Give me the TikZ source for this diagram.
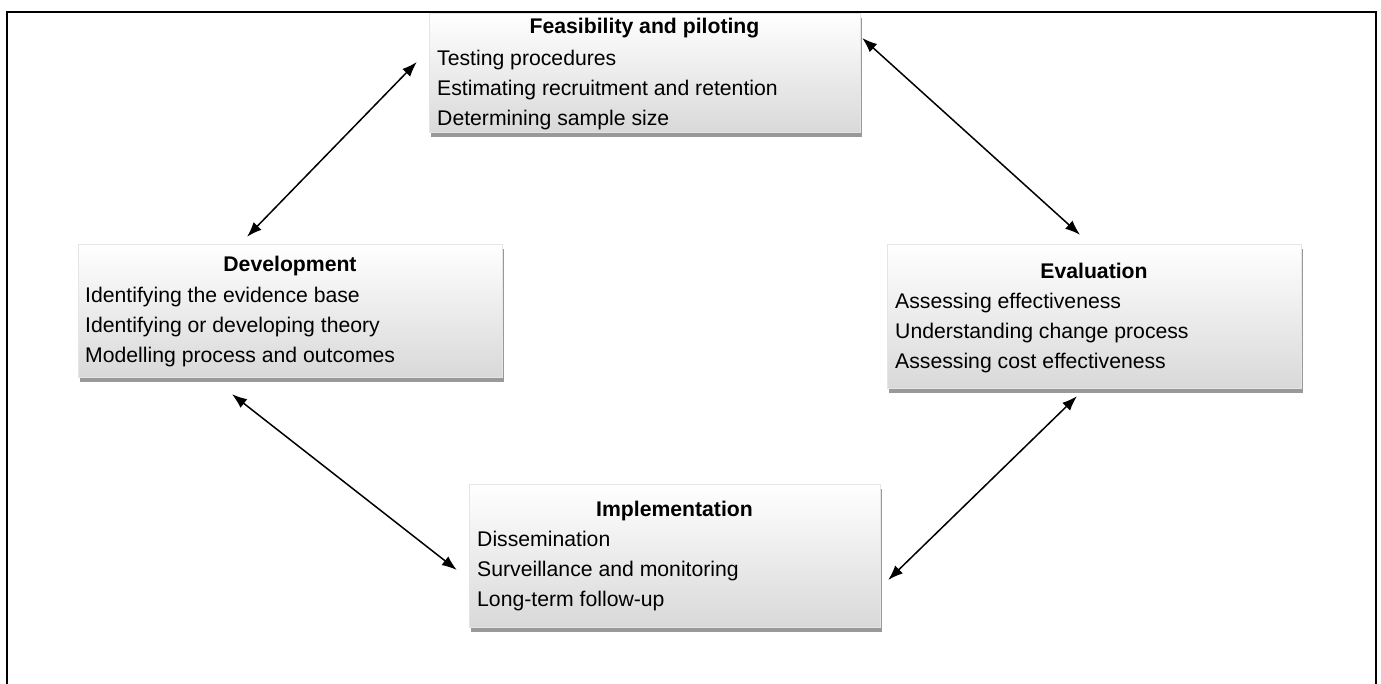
\documentclass[tikz,border=0pt]{standalone}
\usepackage{fontspec}
\setmainfont{Liberation Sans}
\usetikzlibrary{arrows.meta,shadows}
\begin{document}
\begin{tikzpicture}[x=1pt,y=-1pt,
  box/.style={rectangle, draw=black!10, line width=0.4pt, inner sep=0pt,
    top color=white, bottom color=black!15,
    drop shadow={shadow xshift=2pt, shadow yshift=-5pt, fill=black, opacity=0.4}},
  boxtitle/.style={inner sep=0pt, font=\fontsize{21.2}{30}\selectfont\bfseries},
  boxlines/.style={inner sep=0pt, anchor=west, align=left, font=\fontsize{21.2}{30}\selectfont},
  biarrow/.style={{Latex[length=15pt,width=11pt]}-{Latex[length=15pt,width=11pt]}, line width=1.5pt}]
\useasboundingbox (0,0) rectangle (1381,684);
\fill[white] (0,0) rectangle (1381,684);

% boxes
\node[box, minimum width=431pt, minimum height=119pt] (feas) at (644.5,73) {};
\node[box, minimum width=424pt, minimum height=133pt] (dev) at (290,310.5) {};
\node[box, minimum width=414pt, minimum height=144pt] (eval) at (1094,316) {};
\node[box, minimum width=411pt, minimum height=143pt] (impl) at (674.5,555.5) {};

% texts
\node[boxtitle] (feasT) at (644.5,28) {Feasibility and piloting};
\node[boxlines] (feasL) at (437,90) {Testing procedures\\Estimating recruitment and retention\\Determining sample size};

\node[boxtitle] (devT) at (290,266) {Development};
\node[boxlines] (devL) at (85,327) {Identifying the evidence base\\Identifying or developing theory\\Modelling process and outcomes};

\node[boxtitle] (evalT) at (1094,271) {Evaluation};
\node[boxlines] (evalL) at (895,333) {Assessing effectiveness\\Understanding change process\\Assessing cost effectiveness};

\node[boxtitle] (implT) at (674.5,511) {Implementation};
\node[boxlines] (implL) at (477,571) {Dissemination\\Surveillance and monitoring\\Long-term follow-up};

% connectors
\draw[biarrow] ([shift={(-43,-7)}]dev.north) -- ([shift={(-12,-11)}]feas.west);
\draw[biarrow] ([shift={(2,-35)}]feas.east) -- ([shift={(-14,-9)}]eval.north);
\draw[biarrow] ([shift={(-58,17)}]dev.south) -- ([shift={(-12,14.5)}]impl.west);
\draw[biarrow] ([shift={(-17,8)}]eval.south) -- ([shift={(8,24.5)}]impl.east);

% outer frame
\draw[line width=2pt] (7,684) -- (7,12) -- (1376,12) -- (1376,684);
\end{tikzpicture}
\end{document}
